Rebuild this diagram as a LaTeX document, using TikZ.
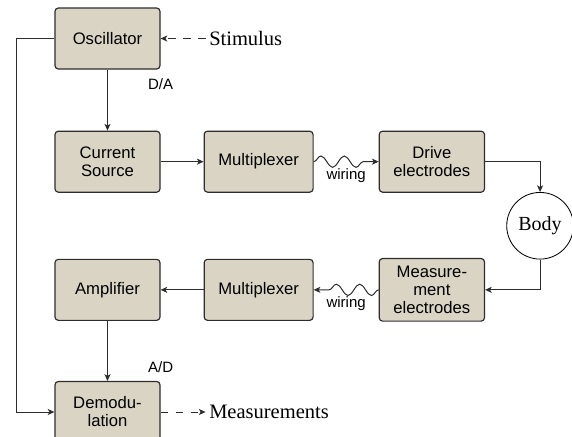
\documentclass[tikz,border=0pt]{standalone}
\usepackage{fontspec}
\setmainfont{Liberation Serif}
\setsansfont{Liberation Sans}
\usepackage{tikz}
\usetikzlibrary{positioning,arrows.meta,calc,decorations.pathmorphing}

\definecolor{boxfill}{RGB}{217,212,196}
\definecolor{linegray}{RGB}{45,45,45}

\begin{document}
\begin{tikzpicture}[
    x=0.6pt, y=-0.6pt,
    ->,
    >={Stealth[length=4pt,width=3.6pt,inset=1pt]},
    block/.style={rectangle, rounded corners=2pt, draw=linegray, fill=boxfill, line width=0.7pt, minimum width=63pt, minimum height=36.6pt, inner xsep=8.5pt, inner ysep=4.5pt, align=center, font=\sffamily\fontsize{10}{10.8}\selectfont},
    organ/.style={circle, draw=black, fill=white, line width=0.5pt, minimum size=40pt, inner sep=0pt, font=\fontsize{12}{14}\selectfont},
    tag/.style={font=\sffamily\fontsize{9}{10}\selectfont, inner sep=1pt},
    outside/.style={font=\fontsize{12.3}{14}\selectfont, inner sep=2pt},
    link/.style={draw=linegray, line width=0.6pt},
    hint/.style={link, dash pattern=on 4.5pt off 4.5pt},
    wire/.style={decorate, decoration={snake, amplitude=3.4pt, segment length=14pt, post length=3pt}},
]
    \useasboundingbox (0,0) rectangle (572,436);

    \node[block] (osc) at (107.5,38.5) {Oscillator};
    \node[block, below=36.6pt of osc] (source) {Current\\Source};
    \node[block, right=25.8pt of source] (mux1) {Multiplexer};
    \node[block, right=39pt of mux1] (drive) {Drive\\electrodes};
    \node[block, below=39.6pt of source] (amp) {Amplifier};
    \node[block, right=25.8pt of amp] (mux2) {Multiplexer};
    \node[block, right=39pt of mux2] (meas) {Measure-\\ment\\electrodes};
    \node[block, below=36pt of amp] (demod) {Demodu-\\lation};
    \node[organ] (body) at ($(drive.east)!0.5!(meas.east)+(55,0)$) {Body};

    \node[outside, right=27pt of osc] (stim) {Stimulus};
    \node[outside, right=27pt of demod] (result) {Measurements};
    \node[tag, below=4pt of osc.south east] (da) {D/A};
    \node[tag, above=4pt of demod.north east] (ad) {A/D};

    % drive side
    \path (osc) edge[link] (source);
    \path (source) edge[link] (mux1);
    \path (mux1) edge[link, wire] node[tag, below=3pt] {wiring} (drive);
    \draw[link] (drive) -| (body);

    % measurement side
    \draw[link] (body) |- (meas);
    \path (meas) edge[link, wire] node[tag, below=3pt] {wiring} (mux2);
    \path (mux2) edge[link] (amp);
    \path (amp) edge[link] (demod);
    \draw[link] (osc.west) -- ++(-38,0) |- (demod.west);

    \path (stim) edge[hint] (osc);
    \path (demod) edge[hint] (result);
\end{tikzpicture}
\end{document}
